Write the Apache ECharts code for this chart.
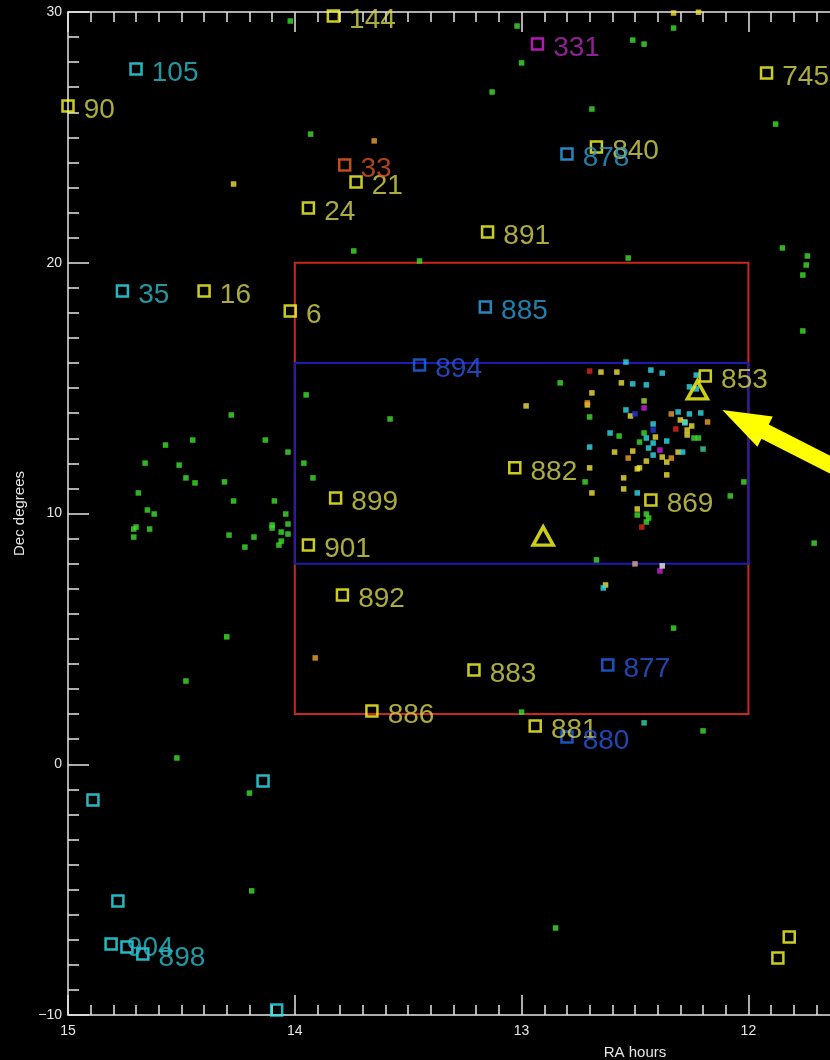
<!DOCTYPE html>
<html>
<head>
<meta charset="utf-8">
<script src="https://cdn.jsdelivr.net/npm/echarts@6/dist/echarts.min.js"></script>
<style>
html,body{margin:0;padding:0;background:#000;overflow:hidden;width:830px;height:1060px;}
#chart{position:absolute;left:0;top:0;width:1202px;height:1060px;}
</style>
</head>
<body>
<div id="chart"></div>
<script>
// ---- axis ticks ----
const raTicks = [15, 14, 13, 12, 11, 10];
const decTicks = [-10, 0, 10, 20, 30];

// ---- small points [RA hours, Dec degrees] ----
const greenDots = [
  [14.02,29.64],[13.93,25.13],[13.74,20.47],[13.45,20.07],[13.02,29.44],[13.00,27.97],[13.13,26.81],
  [12.51,28.88],[12.46,28.72],[12.33,29.36],[12.69,26.13],[11.88,25.53],[11.85,20.59],[11.74,20.27],
  [11.745,19.91],[11.76,19.51],[11.76,17.28],[12.53,20.19],[13.95,14.73],[13.58,13.77],[14.28,13.93],
  [14.45,12.93],[14.57,12.73],[14.13,12.93],[14.03,12.45],[14.66,12.01],[14.51,11.93],[14.48,11.42],
  [14.44,11.22],[14.31,11.26],[13.96,12.01],[13.92,11.42],[14.69,10.82],[14.27,10.50],[14.09,10.50],
  [14.65,10.14],[14.62,9.98],[14.04,9.98],[14.03,9.58],[14.70,9.46],[14.71,9.38],[14.64,9.38],
  [14.71,9.06],[14.29,9.14],[14.18,9.06],[14.22,8.66],[14.10,9.54],[14.10,9.42],[14.06,9.26],
  [14.03,9.18],[14.06,8.90],[14.07,8.74],[14.30,5.08],[14.48,3.32],[14.52,0.25],[14.20,-1.15],
  [14.19,-5.05],[12.85,-6.53],[12.67,8.15],[12.33,5.43],[13.00,2.08],[12.20,1.33],[12.83,15.21],
  [12.70,13.85],[12.57,13.09],[12.46,13.21],[12.48,12.85],[12.24,13.01],[12.22,13.01],[12.72,11.26],
  [12.02,11.26],[12.08,10.70],[12.49,9.94],[12.45,9.98],[12.44,9.82],[12.45,9.66],[11.71,8.82]
];
const limeDots = [[12.46,14.49]];
const yellowDots = [
  [14.27,23.14],[12.33,29.96],[12.22,29.99],[12.98,14.29],[12.65,15.64],[12.58,15.64],[12.56,15.21],
  [12.69,14.81],[12.71,14.33],[12.52,13.89],[12.30,13.73],[12.28,13.65],[12.25,13.49],[12.27,13.33],
  [12.27,13.13],[12.41,13.05],[12.59,12.45],[12.51,12.49],[12.31,12.45],[12.45,12.09],[12.38,12.25],
  [12.36,12.05],[12.70,11.82],[12.49,11.78],[12.48,11.82],[12.55,11.42],[12.36,11.54],[12.55,10.98],
  [12.69,10.82],[12.49,10.18],[12.63,7.15]
];
const orangeDots = [[13.65,24.86],[12.71,14.41],[12.34,13.97],[12.18,13.65],[12.53,12.21],[12.34,12.21],[13.91,4.24]];
const pinkDots = [[12.50,7.99]];
const redDots = [[12.70,15.68],[12.32,13.37],[12.47,9.46]];
const cyanDots = [
  [12.43,15.72],[12.38,15.60],[12.54,16.04],[12.51,15.17],[12.45,15.13],[12.23,15.52],[12.26,15.05],
  [12.23,14.97],[12.54,14.13],[12.31,14.05],[12.26,13.97],[12.21,14.01],[12.28,13.61],[12.42,13.57],
  [12.61,13.21],[12.45,13.01],[12.42,12.81],[12.36,12.89],[12.44,12.61],[12.42,12.33],[12.29,12.45],
  [12.70,12.65],[12.49,10.82],[12.64,7.03]
];
const tealDots = [[12.20,12.57],[12.46,1.65]];
const magentaDots = [[12.46,14.21],[12.39,12.53],[12.39,7.71]];
const blueDots = [[12.50,13.97],[12.42,13.33]];
const whiteDots = [[12.38,7.91]];

// ---- labelled squares [RA, Dec, label] ----
const yellowSquares = [
  [13.83,29.84,'144'],[15.00,26.25,'90'],[11.92,27.57,'745'],[12.67,24.62,'840'],[13.73,23.22,'21'],
  [13.94,22.18,'24'],[13.15,21.23,'891'],[14.40,18.87,'16'],[14.02,18.08,'6'],[12.19,15.48,'853'],
  [13.03,11.82,'882'],[12.43,10.54,'869'],[13.82,10.62,'899'],[13.94,8.74,'901'],[13.79,6.75,'892'],
  [13.21,3.76,'883'],[13.66,2.12,'886'],[12.94,1.53,'881'],[11.82,-6.89,''],[11.87,-7.73,'']
];
const cyanSquares = [
  [14.70,27.73,'105'],[14.76,18.87,'35'],[14.89,-1.43,''],[14.14,-0.67,''],[14.78,-5.45,''],
  [14.81,-7.17,'904'],[14.74,-7.29,''],[14.67,-7.57,'898'],[14.08,-9.80,'']
];
const skySquares = [[12.80,24.34,'878'],[13.16,18.24,'885']];
const blueSquares = [[13.45,15.92,'894'],[12.62,3.96,'877'],[12.80,1.09,'880']];
const magentaSquares = [[12.93,28.72,'331']];
const orangeSquares = [[13.78,23.90,'33']];

// ---- triangles ----
const triangles = [[12.905,9.10],[12.225,14.93]];

// ---- boxes [RA1, Dec1, RA2, Dec2] ----
const redBox = [[14,20,12,2]];
const blueBox = [[14,16,12,8]];

// ---- arrow [tipRA, tipDec, tailRA, tailDec] ----
const arrowData = [[12.115,14.13,11.33,10.52]];

const chart = echarts.init(document.getElementById('chart'), null, {renderer:'canvas', width:1202, height:1060});

const AX = '#e6e6e6';
const tickFont = {color: AX, fontFamily: 'Liberation Sans', fontSize: 14};

function dotSeries(data, color) {
  return {type:'scatter', data, symbol:'rect', symbolSize:5.5, clip:false,
    itemStyle:{color}, silent:true, z:3};
}
function squareSeries(data, color, labelColor) {
  return {type:'scatter', data, symbol:'rect', symbolSize:11, clip:false,
    itemStyle:{color:'rgba(0,0,0,0)', borderColor:color, borderWidth:2.5},
    label:{show:true, position:'right', distance:9, offset:[0,4],
      formatter:p=>p.value[2], color:labelColor, fontFamily:'Liberation Sans', fontSize:28},
    silent:true, z:4};
}
function boxSeries(data, color) {
  return {type:'custom', data, coordinateSystem:'cartesian2d', encode:{x:[0,2], y:[1,3]}, silent:true, z:2,
    renderItem:(params, api)=>{
      const p1 = api.coord([api.value(0), api.value(1)]);
      const p2 = api.coord([api.value(2), api.value(3)]);
      return {type:'rect', shape:{x:Math.min(p1[0],p2[0]), y:Math.min(p1[1],p2[1]),
        width:Math.abs(p2[0]-p1[0]), height:Math.abs(p2[1]-p1[1])},
        style:{fill:'none', stroke:color, lineWidth:2}};
    }};
}

const xBase = {
  type:'value', inverse:true, min:raTicks[raTicks.length-1], max:raTicks[0], interval:1,
  axisLine:{show:true, onZero:false, lineStyle:{color:AX, width:1.5}},
  axisTick:{show:true, inside:true, length:20, lineStyle:{color:AX, width:1.5}},
  minorTick:{show:true, splitNumber:10, length:10, lineStyle:{color:AX, width:1.5}},
  splitLine:{show:false}, minorSplitLine:{show:false}
};

chart.setOption({
  backgroundColor:'#000',
  animation:false,
  grid:{left:68, top:12, bottom:45, right:0, containLabel:false, outerBoundsMode:'none'},
  xAxis:[
    Object.assign({}, xBase, {position:'bottom', name:'RA hours', nameLocation:'middle', nameGap:30,
      nameTextStyle:{color:AX, fontFamily:'Liberation Sans', fontSize:15},
      axisLabel:Object.assign({show:true, margin:9}, tickFont)}),
    Object.assign({}, xBase, {position:'top', axisLabel:{show:false}})
  ],
  yAxis:[{
    type:'value', min:decTicks[0], max:decTicks[decTicks.length-1], interval:10, position:'left',
    name:'Dec degrees', nameLocation:'middle', nameGap:40, nameRotate:90,
    nameTextStyle:{color:AX, fontFamily:'Liberation Sans', fontSize:15},
    axisLine:{show:true, onZero:false, lineStyle:{color:AX, width:1.5}},
    axisTick:{show:true, inside:true, length:21, lineStyle:{color:AX, width:1.5}},
    minorTick:{show:true, splitNumber:10, length:11, lineStyle:{color:AX, width:1.5}},
    axisLabel:Object.assign({show:true, margin:6, formatter:v=>String(v).replace('-', '\u2212')}, tickFont),
    splitLine:{show:false}
  }],
  series:[
    boxSeries(redBox, '#c8281c'),
    boxSeries(blueBox, '#1c1cb4'),
    dotSeries(greenDots, '#3ee02c'),
    dotSeries(limeDots, '#a8e030'),
    dotSeries(yellowDots, '#f2e23a'),
    dotSeries(orangeDots, '#f0a030'),
    dotSeries(pinkDots, '#e0a8a0'),
    dotSeries(redDots, '#e02818'),
    dotSeries(cyanDots, '#30dcea'),
    dotSeries(tealDots, '#30d8a8'),
    dotSeries(magentaDots, '#d020e0'),
    dotSeries(blueDots, '#2038e0'),
    dotSeries(whiteDots, '#f0f0f0'),
    squareSeries(yellowSquares, '#ffff28', '#d6d64e'),
    squareSeries(cyanSquares, '#30e6f0', '#2cbcc8'),
    squareSeries(skySquares, '#30a8ec', '#2c9cd4'),
    squareSeries(blueSquares, '#2068ea', '#2a58dc'),
    squareSeries(magentaSquares, '#e020e0', '#b02cb4'),
    squareSeries(orangeSquares, '#f06020', '#d85426'),
    {type:'scatter', data:triangles, symbol:'triangle', symbolSize:[20,18], clip:false,
      itemStyle:{color:'rgba(0,0,0,0)', borderColor:'#ffff20', borderWidth:3.5}, silent:true, z:5},
    {type:'custom', data:arrowData, coordinateSystem:'cartesian2d', encode:{x:[0,2], y:[1,3]}, silent:true, z:6,
      renderItem:(params, api)=>{
        const a = api.coord([api.value(0), api.value(1)]);
        const b = api.coord([api.value(2), api.value(3)]);
        const dx = b[0]-a[0], dy = b[1]-a[1], L = Math.hypot(dx, dy);
        const ux = dx/L, uy = dy/L, nx = -uy, ny = ux;
        const hl = 48, hw = 17, sw = 8;
        const h = [a[0]+ux*hl, a[1]+uy*hl];
        const pts = [a,
          [h[0]+nx*hw, h[1]+ny*hw], [h[0]+nx*sw, h[1]+ny*sw],
          [b[0]+nx*sw, b[1]+ny*sw], [b[0]-nx*sw, b[1]-ny*sw],
          [h[0]-nx*sw, h[1]-ny*sw], [h[0]-nx*hw, h[1]-ny*hw]];
        return {type:'polygon', shape:{points:pts}, style:{fill:'#ffff00'}};
      }}
  ]
});
</script>
</body>
</html>
